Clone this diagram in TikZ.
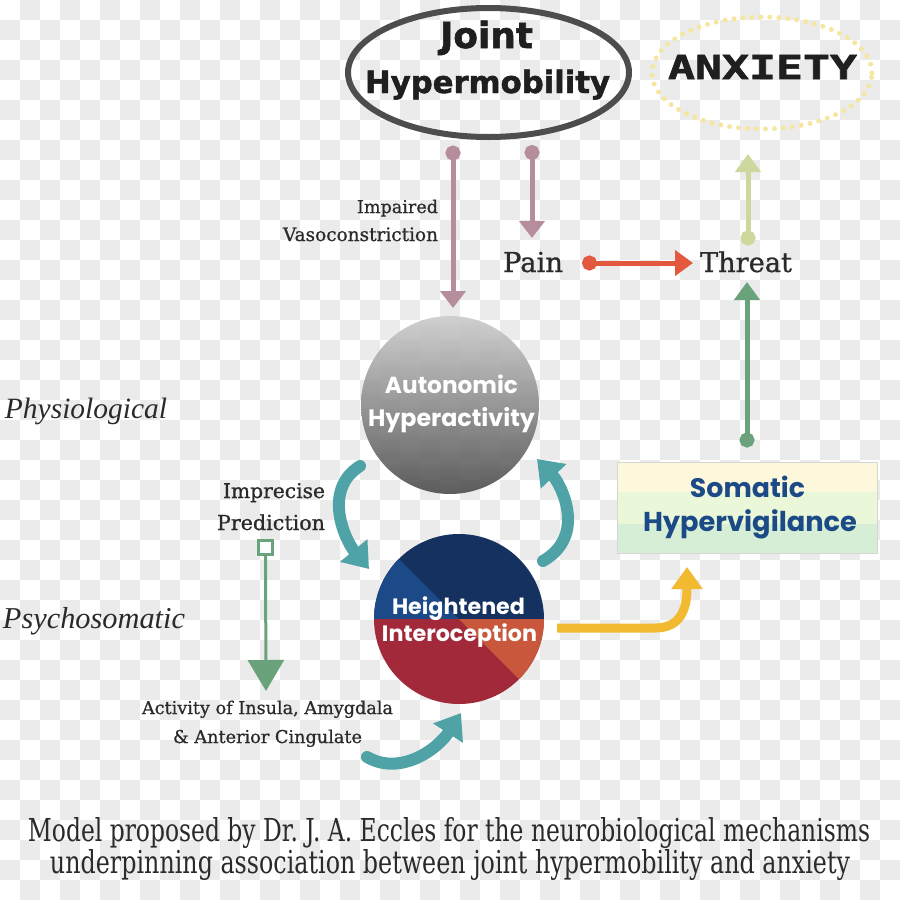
\documentclass[tikz,border=0pt]{standalone}
\usepackage{fontspec}
\usepackage{graphicx}
\setmainfont{DejaVu Serif}
\newfontfamily\labelfont{DejaVu Serif}[FakeBold=0.8]
\newfontfamily\popfont{Poppins}
\newfontfamily\heavyfont{DejaVu Sans}[BoldFeatures={FakeBold=1.6}]
\newfontfamily\monofont{DejaVu Sans Mono}[BoldFeatures={FakeBold=1.6}]
\newfontfamily\timesfont{Liberation Serif}
\usetikzlibrary{arrows.meta,shapes.geometric}
\definecolor{checkgray}{HTML}{EBEBEB}
\definecolor{jointgray}{HTML}{4D4D4D}
\definecolor{textdark}{HTML}{1F1F1F}
\definecolor{labeltext}{HTML}{2A2A2A}
\definecolor{anxy}{HTML}{F5E6A0}
\definecolor{mauve}{HTML}{B68D9C}
\definecolor{redarr}{HTML}{E2593F}
\definecolor{lightgreen}{HTML}{CDD89C}
\definecolor{greenarr}{HTML}{6AA37B}
\definecolor{tealarr}{HTML}{4FA3A6}
\definecolor{yellowarr}{HTML}{F2BA30}
\definecolor{navy}{HTML}{14315F}
\definecolor{bluew}{HTML}{1C4987}
\definecolor{redw}{HTML}{A2293A}
\definecolor{orangew}{HTML}{C9573B}
\definecolor{somtext}{HTML}{1B4A86}
\definecolor{bandA}{HTML}{FDF8DC}
\definecolor{bandB}{HTML}{EAF8D9}
\definecolor{bandC}{HTML}{D5EED5}
\definecolor{boxborder}{HTML}{D6D6D6}
\begin{document}
\begin{tikzpicture}[x=1pt,y=-1pt,
  lbl/.style={anchor=base,inner sep=0pt,outer sep=0pt},
  checker/.style={fill=checkgray,draw=none},
  tealcurve/.style={draw=tealarr,line width=12pt,line cap=round,
    arrows={-Triangle[width=34pt,length=24pt]}},
  mauvearrow/.style={draw=mauve,line width=5pt,
    arrows={Circle[length=15pt]-Triangle[width=25pt,length=17pt]}},
  dotarrow/.style={line width=5pt,
    arrows={Circle[length=15pt]-Triangle[width=25pt,length=18pt]}}
]
\useasboundingbox (0,0) rectangle (900,900);
% transparency checkerboard
\fill[white] (0,0) rectangle (900,900);
\foreach \j in {0,20,...,880}{%
  \pgfmathsetmacro{\sh}{mod(\j/20,2)*20}%
  \foreach \i in {20,60,...,900}{%
    \path[checker] ({\i-\sh},\j) rectangle ++(20,20);}}

% Joint Hypermobility
\node[ellipse,draw=jointgray,line width=6pt,minimum width=281pt,minimum height=129pt] (joint) at (488.5,72.5) {};
\node[lbl,text=textdark] (jointA) at (486.5,48) {\resizebox{93pt}{!}{\heavyfont\bfseries Joint}};
\node[lbl,text=textdark] (jointB) at (487.5,93) {\resizebox{245pt}{!}{\heavyfont\bfseries Hypermobility}};

% Anxiety
\node[ellipse,draw=anxy,line width=5pt,line cap=round,dash pattern=on 0pt off 9pt,
  minimum width=220pt,minimum height=112pt] (anx) at (762,73) {};
\node[lbl,text=textdark] (anxT) at (762.5,79) {\resizebox{189pt}{24pt}{\monofont\bfseries ANXIETY}};

% Autonomic circle
\node[circle,minimum size=178pt,inner sep=0pt,top color=black!20,bottom color=black!70,
  fill opacity=0.9] (auto) at (450,405) {};
\node[lbl,text=white] (autoA) at (451.5,393) {\resizebox{133pt}{!}{\popfont\bfseries Autonomic}};
\node[lbl,text=white] (autoB) at (451.5,426) {\resizebox{167pt}{!}{\popfont\bfseries Hyperactivity}};

% Heightened Interoception circle
\node[circle,minimum size=170pt,inner sep=0pt] (hi) at (459,619) {};
\begin{scope}
  \clip (459,619) circle (85pt);
  \fill[navy] (370,530) rectangle (550,619);
  \fill[bluew] (459,619) -- (365,525) -- (365,619) -- cycle;
  \fill[redw] (370,619) rectangle (550,710);
  \fill[orangew] (459,619) -- (555,715) -- (555,619) -- cycle;
\end{scope}
\node[lbl,text=white] (hiA) at (458.5,614) {\resizebox{133pt}{!}{\popfont\bfseries Heightened}};
\node[lbl,text=white] (hiB) at (459.5,641) {\resizebox{155pt}{!}{\popfont\bfseries Interoception}};

% Somatic Hypervigilance box
\node[rectangle,minimum width=260pt,minimum height=91pt,inner sep=0pt] (som) at (747.5,507.5) {};
\fill[bandA] (617.5,462) rectangle (877.5,492);
\fill[bandB] (617.5,492) rectangle (877.5,524);
\fill[bandC] (617.5,524) rectangle (877.5,553);
\draw[boxborder,line width=0.8pt] (617.5,462) rectangle (877.5,553);
\node[lbl,text=somtext] (somA) at (747.5,497) {\resizebox{115pt}{!}{\popfont\bfseries Somatic}};
\node[lbl,text=somtext] (somB) at (750,531) {\resizebox{214pt}{!}{\popfont\bfseries Hypervigilance}};

% Pain / Threat
\node[lbl,text=labeltext] (pain) at (533,272) {\resizebox{60pt}{!}{\labelfont Pain}};
\node[lbl,text=labeltext] (threat) at (746,272) {\resizebox{92pt}{!}{\labelfont Threat}};

% labels
\node[lbl,anchor=base east,text=labeltext] (imp1) at (438,213) {\resizebox{81pt}{!}{\labelfont Impaired}};
\node[lbl,anchor=base east,text=labeltext] (imp2) at (438,241) {\resizebox{155pt}{!}{\labelfont Vasoconstriction}};
\node[lbl,text=labeltext] (pred1) at (274,498) {\resizebox{102pt}{!}{\labelfont Imprecise}};
\node[lbl,text=labeltext] (pred2) at (271,530) {\resizebox{108pt}{!}{\labelfont Prediction}};
\node[lbl,text=labeltext] (act1) at (267.5,714) {\resizebox{251pt}{!}{\labelfont Activity of Insula, Amygdala}};
\node[lbl,text=labeltext] (act2) at (267.5,743) {\resizebox{189pt}{!}{\labelfont\& Anterior Cingulate}};
\node[lbl,text=labeltext] (phys) at (86,418) {\resizebox{162pt}{!}{\timesfont\itshape Physiological}};
\node[lbl,text=labeltext] (psych) at (94,628) {\resizebox{182pt}{!}{\timesfont\itshape Psychosomatic}};
\node[lbl,text=labeltext] (cap1) at (449,841) {\resizebox{842pt}{24pt}{Model proposed by Dr.\ J.\ A.\ Eccles for the neurobiological mechanisms}};
\node[lbl,text=labeltext] (cap2) at (450,873) {\resizebox{800pt}{24pt}{underpinning association between joint hypermobility and anxiety}};

% connector end points
\coordinate (m1s) at (453,145.5);
\coordinate (m1e) at (453,308);
\coordinate (m2s) at (532,145);
\coordinate (m2e) at (532,238);
\coordinate (rs) at (582,263);
\coordinate (re) at (693,263);
\coordinate (lgs) at (748,245.5);
\coordinate (lge) at (748,154);
\coordinate (gs) at (747,447.5);
\coordinate (ge) at (747,282);

\draw[mauvearrow] (m1s) -- (m1e);
\draw[mauvearrow] (m2s) -- (m2e);
\draw[dotarrow,draw=redarr] (rs) -- (re);
\draw[dotarrow,draw=lightgreen] (lgs) -- (lge);
\draw[dotarrow,draw=greenarr] (gs) -- (ge);

% Imprecise prediction arrow
\node[rectangle,draw=greenarr,fill=white,line width=3pt,minimum size=14pt,inner sep=0pt] (sq) at (265.5,547.5) {};
\coordinate (sqe) at (266,691);
\draw[draw=greenarr,line width=3pt,arrows={-Triangle[width=36pt,length=31pt]}] (sq.south) -- (sqe);

% teal curved arrows
\coordinate (t1s) at (360,466);
\coordinate (t1e) at (369,569);
\draw[tealcurve] (t1s) .. controls (322,490) and (345,540) .. (t1e);
\coordinate (t2s) at (543,561);
\coordinate (t2e) at (537,459);
\draw[tealcurve] (t2s) .. controls (588,535) and (560,483) .. (t2e);
\coordinate (t3s) at (367,757);
\coordinate (t3e) at (461,713);
\draw[tealcurve] (t3s) .. controls (400,776) and (437,750) .. (t3e);

% yellow arrow
\coordinate (ys) at (557,628);
\coordinate (ye) at (687,567);
\draw[draw=yellowarr,line width=9pt,arrows={-Triangle[width=30pt,length=22pt]}]
  (ys) -- (655,628) .. controls (680,628) and (687,610) .. (ye);
\end{tikzpicture}
\end{document}
